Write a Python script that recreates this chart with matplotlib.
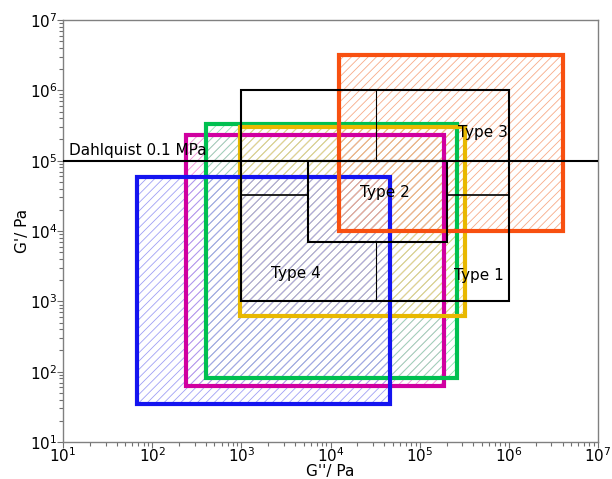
import matplotlib.pyplot as plt
from matplotlib.patches import Rectangle
from matplotlib.ticker import LogLocator, FixedLocator

# Viskoelastische Fenster (G'' von-bis, G' von-bis)
names = ['blue', 'magenta', 'green', 'yellow', 'orange']
gpp_lo = [68, 240, 405, 960, 1.26e4]
gpp_hi = [4.6e4, 1.86e5, 2.6e5, 3.2e5, 4.0e6]
gp_lo = [35, 63, 82, 610, 1.0e4]
gp_hi = [5.8e4, 2.3e5, 3.3e5, 3.0e5, 3.2e6]
edge_colors = ['#1414f0', '#d000a0', '#00c050', '#e8b800', '#f85010']
hatch_colors = ['#a0a0f4', '#f090d8', '#90e4b4', '#f2d680', '#f8aa88']

# Chang-Fenster (schwarze Linien)
chang_box = [1e3, 1e6, 1e3, 1e6]
type2_box = [5.6e3, 2e5, 7e3, 1e5]
g_split = 3.2e4
dahlquist = 1e5

type_labels = ['Type 1', 'Type 2', 'Type 3', 'Type 4']
type_x = [4.6e5, 4.1e4, 5.1e5, 4.1e3]
type_y = [2.3e3, 3.5e4, 2.5e5, 2.5e3]

plt.rcParams['hatch.linewidth'] = 0.6

fig = plt.figure(figsize=(6.12, 4.79), dpi=100)
ax = fig.add_axes([63/612, 1 - 442/479, 535/612, 422/479])
ax.set_xscale('log')
ax.set_yscale('log')
ax.set_xlim(10, 1e7)
ax.set_ylim(10, 1e7)

order = [1, 2, 3, 0, 4]
for z, i in enumerate(order):
    w = gpp_hi[i] - gpp_lo[i]
    h = gp_hi[i] - gp_lo[i]
    ax.add_patch(Rectangle((gpp_lo[i], gp_lo[i]), w, h, fill=False,
                           hatch='////', edgecolor=hatch_colors[i], linewidth=0,
                           zorder=1))
    ax.add_patch(Rectangle((gpp_lo[i], gp_lo[i]), w, h, fill=False,
                           edgecolor=edge_colors[i], linewidth=3, zorder=3 + z))

# Chang
x0, x1, y0, y1 = chang_box
ax.add_patch(Rectangle((x0, y0), x1 - x0, y1 - y0, fill=False,
                       edgecolor='black', linewidth=1.5, zorder=10))
a0, a1, b0, b1 = type2_box
ax.add_patch(Rectangle((a0, b0), a1 - a0, b1 - b0, fill=False,
                       edgecolor='black', linewidth=1.5, zorder=10))
ax.plot([g_split, g_split], [dahlquist, y1], color='black', lw=0.8, zorder=10)
ax.plot([g_split, g_split], [y0, b0], color='black', lw=0.8, zorder=10)
ax.plot([x0, a0], [g_split, g_split], color='black', lw=1.2, zorder=10)
ax.plot([a1, x1], [g_split, g_split], color='black', lw=1.2, zorder=10)

ax.axhline(dahlquist, color='black', lw=1.5, zorder=11)
ax.text(11.8, dahlquist * 1.1, 'Dahlquist 0.1 MPa', fontsize=11,
        ha='left', va='bottom', zorder=12)

for lab, tx, ty in zip(type_labels, type_x, type_y):
    ax.text(tx, ty, lab, fontsize=11, ha='center', va='center', zorder=12)

ax.set_xlabel("G''/ Pa", fontsize=11)
ax.xaxis.set_label_coords(0.5, -0.053)
ax.set_ylabel("G'/ Pa", fontsize=11, labelpad=0)

ax.xaxis.set_major_locator(FixedLocator([10**k for k in range(1, 8)]))
ax.yaxis.set_major_locator(FixedLocator([10**k for k in range(1, 8)]))
ax.xaxis.set_minor_locator(LogLocator(base=10, subs=range(2, 10), numticks=20))
ax.yaxis.set_minor_locator(LogLocator(base=10, subs=range(2, 10), numticks=20))
ax.tick_params(which='both', direction='out', colors='#707070',
               labelcolor='black', labelsize=11, width=0.8)
ax.tick_params(which='major', length=4, pad=0)
ax.tick_params(which='minor', length=3)
ax.tick_params(axis='x', which='major', pad=-1)
for s in ax.spines.values():
    s.set_color('#808080')
    s.set_linewidth(1.0)

plt.savefig('out.png', dpi=100)
plt.close()
